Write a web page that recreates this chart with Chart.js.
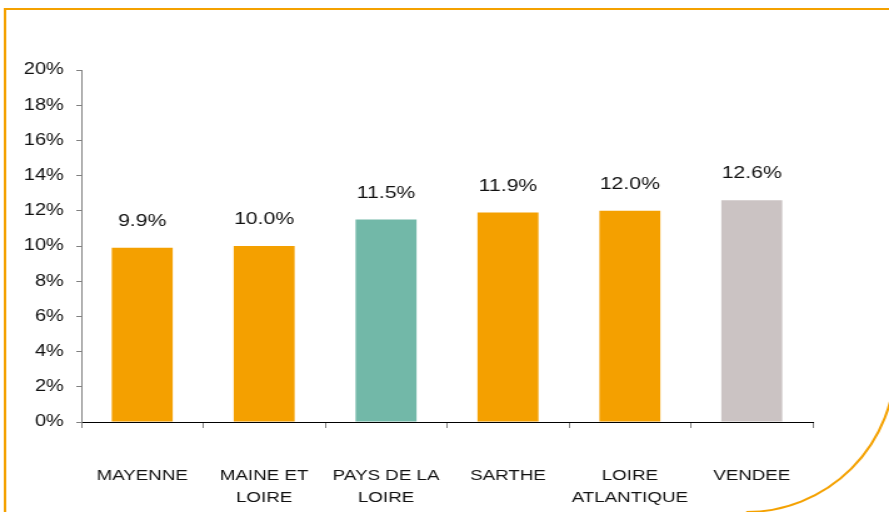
<!DOCTYPE html>
<html>
<head>
<meta charset="utf-8">
<script src="https://cdn.jsdelivr.net/npm/chart.js@4.4.1/dist/chart.umd.min.js"></script>
<style>
    html, body { margin: 0; padding: 0; background: #ffffff; overflow: hidden; }
    /* the original picture is stretched sideways, so draw narrow and widen with CSS */
    #rateChart { display: block; width: 889px !important; height: 512px !important; }
</style>
</head>
<body>
<canvas id="rateChart" width="711" height="512"></canvas>
<script>
// Data
const categories = [
    ['MAYENNE'],
    ['MAINE ET', 'LOIRE'],
    ['PAYS DE LA', 'LOIRE'],
    ['SARTHE'],
    ['LOIRE', 'ATLANTIQUE'],
    ['VENDEE']
];
const rates = [9.9, 10.0, 11.5, 11.9, 12.0, 12.6];
const barColors = ['#F4A000', '#F4A000', '#72B8A8', '#F4A000', '#F4A000', '#CBC3C3'];
const yTicks = [0, 2, 4, 6, 8, 10, 12, 14, 16, 18, 20];

const FONT = "'Liberation Sans', Arial, sans-serif";
const SX = 1.25; // horizontal stretch of the canvas

// Orange frame with a big rounded bottom-right corner
const framePlugin = {
    id: 'frame',
    beforeDraw(chart) {
        const ctx = chart.ctx;
        const l = 5 / SX, t = 9, r = 895 / SX, b = 512, rad = 149;
        ctx.save();
        ctx.strokeStyle = '#F4A100';
        ctx.lineWidth = 2;
        ctx.beginPath();
        ctx.moveTo(l, b + 5);
        ctx.lineTo(l, t);
        ctx.lineTo(r, t);
        ctx.lineTo(r, b - rad);
        ctx.ellipse(r - rad / SX, b - rad, rad / SX, rad, 0, 0, Math.PI / 2);
        ctx.stroke();
        ctx.restore();
    }
};

// Percent labels above each bar
const valueLabels = {
    id: 'valueLabels',
    afterDatasetsDraw(chart) {
        const ctx = chart.ctx;
        const meta = chart.getDatasetMeta(0);
        ctx.save();
        ctx.font = '17px ' + FONT;
        ctx.fillStyle = '#111111';
        ctx.textAlign = 'center';
        ctx.textBaseline = 'alphabetic';
        meta.data.forEach((bar, i) => {
            ctx.fillText(rates[i].toFixed(1) + '%', bar.x, bar.y - 22);
        });
        ctx.restore();
    }
};

new Chart(document.getElementById('rateChart'), {
    type: 'bar',
    data: {
        labels: categories,
        datasets: [{
            data: rates,
            backgroundColor: barColors,
            borderWidth: 0,
            categoryPercentage: 1.0,
            barPercentage: 0.5
        }]
    },
    options: {
        responsive: false,
        animation: false,
        devicePixelRatio: 1,
        layout: { padding: { top: 70, right: 61, bottom: 0, left: 0 } },
        plugins: {
            legend: { display: false },
            tooltip: { enabled: false }
        },
        scales: {
            x: {
                grid: {
                    offset: true,
                    drawOnChartArea: false,
                    drawTicks: true,
                    tickLength: 6,
                    color: '#808080'
                },
                border: { display: true, color: '#000000', width: 1 },
                ticks: {
                    color: '#111111',
                    font: { family: FONT, size: 15, lineHeight: 1.45 },
                    padding: 37,
                    maxRotation: 0,
                    autoSkip: false
                },
                afterFit(scale) { scale.height = 90; }
            },
            y: {
                min: 0,
                max: 20,
                afterBuildTicks(scale) {
                    scale.ticks = yTicks.map(v => ({ value: v }));
                },
                grid: {
                    drawOnChartArea: false,
                    drawTicks: true,
                    tickLength: 4,
                    color: '#808080'
                },
                border: { display: true, color: '#808080', width: 1 },
                ticks: {
                    color: '#111111',
                    font: { family: FONT, size: 16 },
                    padding: 10,
                    callback: v => v + '%'
                },
                afterFit(scale) { scale.width = 65; }
            }
        }
    },
    plugins: [framePlugin, valueLabels]
});
</script>
</body>
</html>
